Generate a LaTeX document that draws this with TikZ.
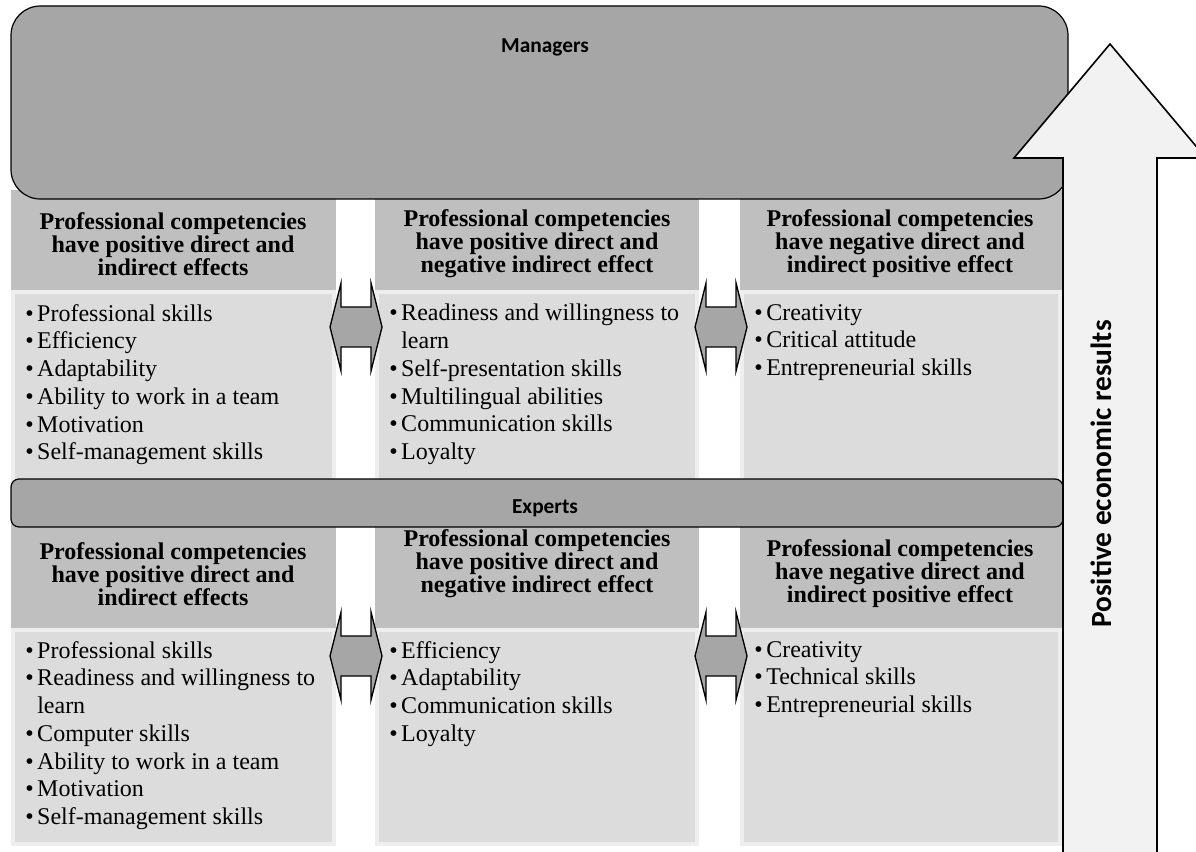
\documentclass[tikz,border=0pt]{standalone}
\usepackage{fontspec}
\setmainfont{Liberation Serif}
\newfontfamily\labelfont{Carlito}
\usetikzlibrary{positioning}

\definecolor{mgrgray}{HTML}{A6A6A6}
\definecolor{headgray}{HTML}{BFBFBF}
\definecolor{bodygray}{HTML}{DCDCDC}
\definecolor{bodyedge}{HTML}{EEEEEE}
\definecolor{upfill}{HTML}{F2F2F2}

\newcommand{\bul}{\textbullet\hspace{0.15em}}
\newcommand{\ind}{\phantom{\textbullet\hspace{0.15em}}}

\begin{document}
\begin{tikzpicture}[x=0.75pt, y=-0.75pt,
    levelbox/.style={fill=mgrgray, draw=black, line width=0.9pt},
    bodybox/.style={fill=bodygray, draw=bodyedge, line width=3pt},
    twoway/.style={fill=mgrgray, draw=black, line width=1pt, line join=miter},
    bigarrow/.style={fill=upfill, draw=black, line width=1.2pt},
    leveltext/.style={font=\labelfont\bfseries\fontsize{16}{18}\selectfont},
    headtext/.style={font=\bfseries\fontsize{18}{17.25}\selectfont, align=center, inner sep=0pt},
    listtext/.style={font=\fontsize{18}{20.8}\selectfont, align=left, anchor=north west, inner sep=0pt}]
    \useasboundingbox (0,0) rectangle (1196,852);

    % Draw the header and list boxes of the three columns
    \foreach \xl/\xr in {11/336, 375/699, 740/1062} {
        \fill[headgray] (\xl,190) rectangle (\xr,290);
        \fill[headgray] (\xl,520) rectangle (\xr,628);
        \draw[bodybox] (\xl+2,292) rectangle (\xr-2,482);
        \draw[bodybox] (\xl+2,630) rectangle (\xr-2,844);
    }

    % Draw the two level bars
    \draw[levelbox, rounded corners=22pt] (11,6) rectangle (1068,199);
    \draw[levelbox, rounded corners=6pt] (11,479) rectangle (1063,527);
    \node[leveltext] (managers) at (545,47) {Managers};
    \node[leveltext] (experts) at (545,508) {Experts};

    % Draw the double arrows between the columns
    \foreach \cx/\cy in {356/327, 721/327, 356/656, 721/656} {
        \draw[twoway] (\cx-15,\cy-44) -- (\cx-15,\cy-20) -- (\cx+15,\cy-20) -- (\cx+15,\cy-44)
            -- (\cx+26,\cy) -- (\cx+15,\cy+44) -- (\cx+15,\cy+20) -- (\cx-15,\cy+20)
            -- (\cx-15,\cy+44) -- (\cx-26,\cy) -- cycle;
    }

    % Draw the big arrow on the right
    \draw[bigarrow] (1063,870) -- (1063,158) -- (1014,158) -- (1110,44) -- (1206,158)
        -- (1157,158) -- (1157,870);
    \node[rotate=90, font=\labelfont\bfseries\fontsize{22}{26}\selectfont] (results) at (1101,474)
        {Positive economic results};

    % Managers: column headers
    \node[headtext] (mhead1) at (173,244) {Professional competencies\\have positive direct and\\indirect effects};
    \node[headtext] (mhead2) at (537,244) {Professional competencies\\have positive direct and\\negative indirect effect};
    \node[headtext] (mhead3) at (900,244) {Professional competencies\\have negative direct and\\indirect positive effect};

    % Managers: lists
    \node[listtext] (mlist1) at (25,304) {\bul Professional skills\\\bul Efficiency\\\bul Adaptability\\
        \bul Ability to work in a team\\\bul Motivation\\\bul Self-management skills};
    \node[listtext] (mlist2) at (389,304) {\bul Readiness and willingness to\\\ind learn\\
        \bul Self-presentation skills\\\bul Multilingual abilities\\\bul Communication skills\\\bul Loyalty};
    \node[listtext] (mlist3) at (754,304) {\bul Creativity\\\bul Critical attitude\\\bul Entrepreneurial skills};

    % Experts: column headers
    \node[headtext] (ehead1) at (173,574) {Professional competencies\\have positive direct and\\indirect effects};
    \node[headtext] (ehead2) at (537,564) {Professional competencies\\have positive direct and\\negative indirect effect};
    \node[headtext] (ehead3) at (900,574) {Professional competencies\\have negative direct and\\indirect positive effect};

    % Experts: lists
    \node[listtext] (elist1) at (25,641) {\bul Professional skills\\\bul Readiness and willingness to\\\ind learn\\
        \bul Computer skills\\\bul Ability to work in a team\\\bul Motivation\\\bul Self-management skills};
    \node[listtext] (elist2) at (389,641) {\bul Efficiency\\\bul Adaptability\\\bul Communication skills\\\bul Loyalty};
    \node[listtext] (elist3) at (754,641) {\bul Creativity\\\bul Technical skills\\\bul Entrepreneurial skills};

\end{tikzpicture}
\end{document}
